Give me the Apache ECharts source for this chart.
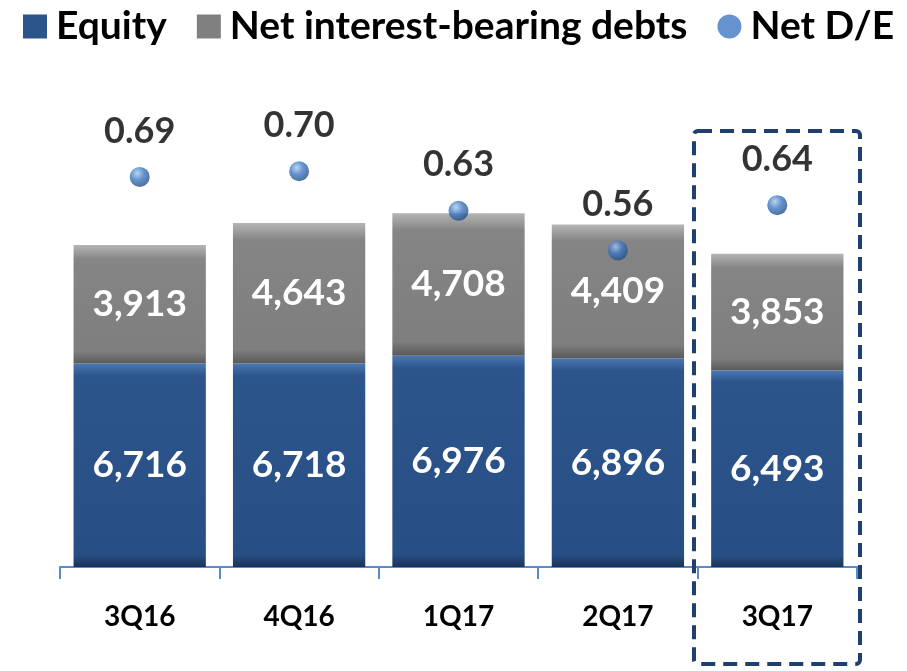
<!DOCTYPE html>
<html>
<head>
<meta charset="utf-8">
<script src="https://cdn.jsdelivr.net/npm/echarts@6/dist/echarts.min.js"></script>
<style>
  html, body { margin: 0; padding: 0; background: #fff; }
  #chart { width: 907px; height: 671px; }
</style>
</head>
<body>
<div id="chart"></div>
<script>
var quarters = ['3Q16', '4Q16', '1Q17', '2Q17', '3Q17'];
var equity = [6716, 6718, 6976, 6896, 6493];
var netDebts = [3913, 4643, 4708, 4409, 3853];
var netDE = [0.69, 0.70, 0.63, 0.56, 0.64];

var font = 'Lato, "Open Sans", sans-serif';

function fmt(v) {
  return v.toLocaleString('en-US');
}

var blueFill = new echarts.graphic.LinearGradient(0, 0, 0, 1, [
  { offset: 0, color: '#4A78B4' },
  { offset: 0.06, color: '#2C558C' },
  { offset: 0.94, color: '#284F85' },
  { offset: 1, color: '#1B3358' }
]);
var grayFill = new echarts.graphic.LinearGradient(0, 0, 0, 1, [
  { offset: 0, color: '#B5B5B5' },
  { offset: 0.12, color: '#858585' },
  { offset: 0.9, color: '#7E7E7E' },
  { offset: 1, color: '#5A5A5A' }
]);
var dotFill = new echarts.graphic.RadialGradient(0.38, 0.32, 0.75, [
  { offset: 0, color: '#A9C8EE' },
  { offset: 0.45, color: '#3F78C2' },
  { offset: 1, color: '#1E477E' }
]);

var chart = echarts.init(document.getElementById('chart'));

var barLabel = {
  show: true,
  position: 'inside',
  color: '#fff',
  fontSize: 37,
  fontWeight: 'bold',
  fontFamily: font,
  formatter: function (p) { return fmt(p.value); }
};

var option = {
  animation: false,
  textStyle: { fontFamily: font },
  legend: {
    top: 2,
    left: 18,
    itemWidth: 24,
    itemHeight: 24,
    itemGap: 30,
    textStyle: { fontSize: 39, fontWeight: 'bold', color: '#000', fontFamily: font, padding: [0, 0, 0, 4] },
    data: [
      { name: 'Equity', icon: 'rect', itemStyle: { color: '#2C558C' } },
      { name: 'Net interest-bearing debts', icon: 'rect', itemStyle: { color: '#808080' } },
      { name: 'Net D/E', icon: 'circle', itemStyle: { color: '#3F78C2' } }
    ]
  },
  grid: { left: 60, right: 50, top: 143, bottom: 104 },
  xAxis: {
    type: 'category',
    data: quarters,
    axisLine: { lineStyle: { color: '#5B8AC6', width: 2 } },
    axisTick: { show: true, length: 12, lineStyle: { color: '#5B8AC6', width: 2 } },
    axisLabel: { margin: 36, fontSize: 28, fontWeight: 'bold', color: '#000', fontFamily: font }
  },
  yAxis: [
    { type: 'value', min: 0, max: 14000, show: false },
    { type: 'value', min: 0, max: 0.75, show: false }
  ],
  series: [
    {
      name: 'Equity',
      type: 'bar',
      stack: 'total',
      barWidth: '83%',
      data: equity,
      itemStyle: { color: blueFill },
      label: barLabel
    },
    {
      name: 'Net interest-bearing debts',
      type: 'bar',
      stack: 'total',
      data: netDebts,
      itemStyle: { color: grayFill },
      label: barLabel
    },
    {
      name: 'Net D/E',
      type: 'scatter',
      yAxisIndex: 1,
      symbolSize: 20,
      data: netDE,
      itemStyle: { color: dotFill },
      label: {
        show: true,
        position: 'top',
        distance: 18,
        color: '#000',
        fontSize: 36,
        fontWeight: 'bold',
        fontFamily: font,
        formatter: function (p) { return p.value.toFixed(2); }
      },
      z: 5
    }
  ],
  graphic: [
    {
      type: 'rect',
      shape: { x: 694, y: 131, width: 166, height: 533, r: 4 },
      style: { fill: 'none', stroke: '#1F3F6E', lineWidth: 4, lineDash: [14, 8] },
      z: 10
    }
  ]
};

chart.setOption(option);
</script>
</body>
</html>
